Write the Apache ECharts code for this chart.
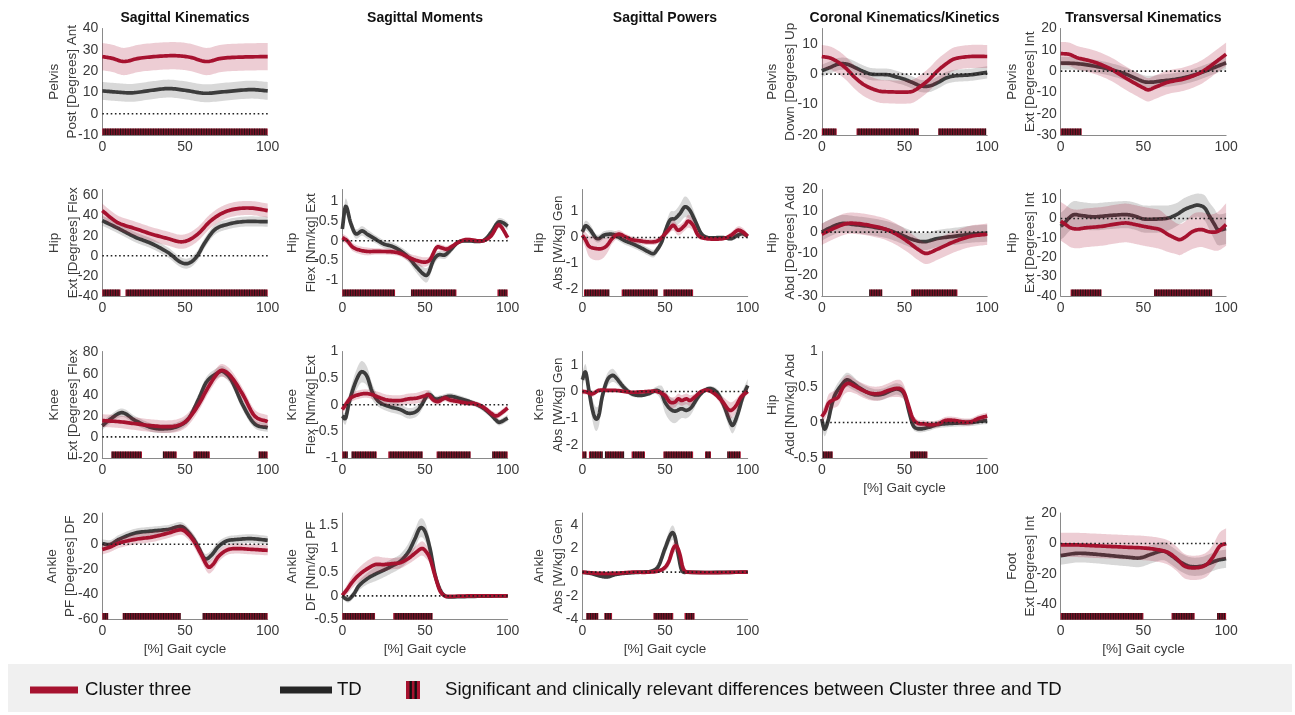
<!DOCTYPE html>
<html>
<head>
<meta charset="utf-8">
<script src="https://cdn.jsdelivr.net/npm/echarts@6/dist/echarts.min.js"></script>
<style>
html, body { margin: 0; padding: 0; background: #fff; }
#chart { width: 1295px; height: 715px; }
</style>
</head>
<body>
<div id="chart"></div>
<script>
// Gait curves: each row is [gait cycle %, mean, standard deviation]
const pelvisSagTD = [[0,10.7,4.2],[8,10.2,4.2],[18,9.8,4.2],[30,11,4.2],[40,11.8,4.2],[50,11,4.2],[62,9.6,4.2],[75,10.4,4.2],[90,11.3,4.2],[100,10.7,4.2]];
const pelvisSagC3 = [[0,26.8,6.4],[6,26,6.4],[13,24.5,6.4],[22,26,6.4],[35,27,6.4],[45,27.2,6.4],[53,26.5,6.4],[63,24.5,6.4],[72,26,6.4],[85,26.6,6.4],[100,26.8,6.4]];

const hipSagTD = [[0,35,5],[10,27,5],[20,18.5,5],[30,12,5],[40,3,5],[47,-6,5],[52,-7.5,5],[57,-1,5],[62,13,5],[68,26,5],[75,31,5],[85,34,5],[100,34,5]];
const hipSagC3 = [[0,45,7],[5,38,7],[10,32.5,7],[20,27,7],[30,21.5,7],[40,17,7],[47,14,7],[52,15.5,7],[58,22,7],[65,34,7],[72,42,7],[80,46.5,7],[90,47.5,7],[100,45,7]];

const kneeSagTD = [[0,10.6,4],[5,17,4],[12,23,4],[20,15.5,4],[30,8.7,4],[37,7.7,4],[45,9.7,4],[52,17,4],[58,35,5],[63,52,5],[70,61,5],[73,62,5],[78,54,5],[85,30,5],[92,12.5,4],[100,8.7,4]];
const kneeSagC3 = [[0,15.5,6],[10,14.5,6],[20,12.5,6],[30,10.6,6],[40,9.7,6],[47,11.6,6],[52,17,6],[58,30,6],[64,47,6],[70,61,6],[73,63,6],[78,57,6],[85,40,6],[92,20,6],[100,14.5,6]];

const ankleSagTD = [[0,0.5,3.5],[5,0,3.5],[10,4,3.5],[20,9,3.5],[30,10.6,3.5],[40,12,3.5],[47,14.3,3.5],[50,12.5,3.5],[55,4.5,4],[58,-2,4],[62,-11.4,4],[66,-8.7,4],[70,-2,4],[75,2.6,3.5],[80,3.7,3.5],[90,4.5,3.5],[100,3.2,3.5]];
const ankleSagC3 = [[0,-4.2,4],[5,-2,4],[10,1,4],[20,4,4],[30,5.8,4],[40,9,4],[47,11.6,4],[50,10.3,4],[55,3.2,4.5],[60,-8.7,5],[64,-18,5],[67,-15.9,5],[70,-10,4.5],[75,-4.8,4],[80,-3.4,4],[90,-4,4],[100,-4.8,4]];

const hipMomTD = [[0,0.3,0.12],[2,0.87,0.2],[5,0.46,0.15],[8,0.18,0.12],[12,0.25,0.12],[15,0.17,0.12],[20,0.04,0.1],[25,-0.08,0.1],[30,-0.14,0.1],[35,-0.25,0.1],[40,-0.42,0.12],[45,-0.67,0.15],[50,-0.87,0.18],[52,-0.83,0.18],[55,-0.5,0.15],[58,-0.36,0.1],[62,-0.36,0.1],[65,-0.25,0.1],[70,-0.04,0.06],[75,0,0.05],[85,0,0.05],[90,0.21,0.08],[94,0.46,0.1],[97,0.46,0.1],[100,0.37,0.1]];
const hipMomC3 = [[0,0.08,0.1],[3,0,0.1],[6,-0.15,0.1],[10,-0.23,0.1],[15,-0.27,0.1],[20,-0.27,0.08],[30,-0.28,0.08],[35,-0.32,0.08],[40,-0.42,0.1],[45,-0.5,0.12],[50,-0.54,0.12],[53,-0.48,0.1],[57,-0.17,0.08],[60,-0.18,0.08],[63,-0.21,0.08],[67,-0.125,0.06],[70,-0.04,0.05],[75,0.03,0.05],[85,0,0.05],[90,0.125,0.06],[94,0.39,0.08],[96,0.36,0.08],[100,0.08,0.08]];

const kneeMomTD = [[0,-0.21,0.08],[2,-0.25,0.12],[4,0.03,0.15],[7,0.34,0.18],[10,0.56,0.2],[12,0.62,0.2],[15,0.53,0.18],[18,0.25,0.15],[22,0.06,0.1],[28,-0.03,0.1],[35,-0.09,0.1],[40,-0.16,0.1],[45,-0.12,0.1],[48,0,0.1],[51,0.16,0.08],[53,0.19,0.08],[56,0.11,0.06],[60,0.125,0.06],[65,0.16,0.06],[70,0.125,0.06],[75,0.08,0.05],[80,0.02,0.05],[85,-0.06,0.06],[90,-0.19,0.06],[93,-0.29,0.06],[95,-0.33,0.06],[100,-0.25,0.06]];
const kneeMomC3 = [[0,-0.09,0.08],[2,0,0.08],[5,0.125,0.08],[10,0.19,0.08],[14,0.21,0.08],[18,0.19,0.08],[22,0.14,0.1],[27,0.09,0.1],[35,0.08,0.1],[40,0.11,0.1],[45,0.125,0.1],[50,0.17,0.1],[52,0.19,0.08],[55,0.09,0.06],[58,0.06,0.06],[62,0.125,0.06],[65,0.09,0.06],[70,0.06,0.05],[75,0.03,0.05],[80,0.02,0.05],[85,-0.04,0.05],[90,-0.16,0.06],[93,-0.21,0.06],[96,-0.16,0.06],[100,-0.06,0.06]];

const ankleMomTD = [[0,0,0.05],[2,-0.06,0.06],[4,-0.07,0.07],[7,0.04,0.08],[10,0.21,0.1],[15,0.36,0.12],[20,0.46,0.15],[25,0.54,0.15],[30,0.63,0.15],[35,0.73,0.15],[40,0.93,0.18],[44,1.21,0.2],[47,1.43,0.2],[50,1.36,0.2],[53,1,0.18],[56,0.46,0.12],[59,0.14,0.06],[62,0,0.03],[65,-0.02,0.02],[80,-0.01,0.02],[100,0,0.02]];
const ankleMomC3 = [[0,0.01,0.05],[3,0.14,0.1],[6,0.29,0.13],[10,0.44,0.15],[15,0.57,0.17],[20,0.66,0.17],[25,0.66,0.15],[30,0.68,0.12],[35,0.7,0.12],[40,0.79,0.12],[45,0.93,0.14],[48,1,0.15],[50,0.96,0.15],[53,0.79,0.12],[56,0.43,0.1],[59,0.11,0.06],[62,0,0.03],[65,-0.01,0.02],[80,0,0.02],[100,0,0.02]];

const hipPowTD = [[0,0.22,0.2],[2,0.45,0.2],[5,0.28,0.2],[8,0,0.15],[10,-0.04,0.15],[13,0.09,0.15],[17,0.13,0.15],[20,0.09,0.15],[25,-0.1,0.15],[30,-0.23,0.15],[35,-0.38,0.15],[40,-0.55,0.15],[43,-0.62,0.15],[45,-0.49,0.15],[48,-0.17,0.15],[50,0.22,0.2],[53,0.67,0.3],[56,0.73,0.3],[59,0.92,0.35],[62,1.18,0.4],[65,1.05,0.35],[68,0.67,0.25],[72,0.15,0.1],[76,0,0.05],[85,0,0.05],[90,-0.04,0.08],[94,0.09,0.1],[97,0.15,0.1],[100,0.05,0.1]];
const hipPowC3 = [[0,0.09,0.2],[2,-0.1,0.3],[4,-0.33,0.4],[8,-0.42,0.45],[12,-0.42,0.4],[15,-0.3,0.3],[18,-0.04,0.2],[22,0.13,0.15],[26,0.03,0.12],[30,-0.08,0.12],[35,-0.13,0.12],[40,-0.17,0.12],[45,-0.14,0.12],[48,0,0.12],[52,0.28,0.15],[55,0.47,0.2],[58,0.28,0.2],[62,0.47,0.2],[64,0.63,0.25],[67,0.47,0.2],[70,0.09,0.12],[75,-0.04,0.06],[85,-0.04,0.06],[90,0.09,0.12],[94,0.28,0.15],[97,0.22,0.15],[100,0.05,0.1]];

const kneePowTD = [[0,0.44,0.25],[2,0.72,0.3],[4,0.04,0.3],[6,-0.65,0.4],[8,-1.02,0.45],[10,-0.9,0.4],[12,-0.21,0.3],[15,0.41,0.25],[18,0.6,0.25],[20,0.54,0.22],[25,0.16,0.15],[30,-0.09,0.1],[35,-0.15,0.08],[40,-0.09,0.08],[45,0.04,0.15],[48,-0.09,0.3],[50,-0.4,0.4],[53,-0.65,0.45],[56,-0.74,0.45],[60,-0.65,0.35],[63,-0.71,0.3],[66,-0.59,0.25],[70,-0.21,0.15],[74,0.04,0.1],[78,0.1,0.1],[82,-0.09,0.15],[86,-0.59,0.25],[89,-1.09,0.3],[91,-1.27,0.3],[94,-0.84,0.3],[97,-0.21,0.25],[100,0.22,0.25]];
const kneePowC3 = [[0,0,0.1],[3,-0.03,0.1],[6,-0.09,0.12],[10,0.04,0.08],[15,0.04,0.06],[20,0.04,0.06],[30,-0.03,0.05],[40,0,0.05],[45,0,0.06],[50,-0.15,0.15],[53,-0.4,0.2],[56,-0.4,0.2],[58,-0.28,0.2],[60,-0.34,0.2],[63,-0.28,0.2],[65,-0.34,0.2],[68,-0.21,0.12],[72,0,0.08],[76,0.04,0.08],[80,-0.09,0.1],[85,-0.4,0.2],[88,-0.65,0.3],[90,-0.71,0.3],[93,-0.53,0.25],[96,-0.21,0.15],[100,0,0.1]];

const anklePowTD = [[0,0,0.1],[5,-0.1,0.1],[10,-0.3,0.15],[15,-0.4,0.15],[20,-0.2,0.15],[25,-0.1,0.12],[35,0,0.1],[42,0.1,0.15],[46,0.5,0.3],[50,2,0.5],[54,3.3,0.6],[56,3,0.6],[58,1.5,0.5],[60,0.2,0.2],[63,0,0.1],[100,0,0.05]];
const anklePowC3 = [[0,0,0.1],[10,-0.1,0.15],[20,-0.1,0.15],[30,0,0.1],[40,0,0.1],[48,0.2,0.2],[52,0.8,0.4],[55,2,0.5],[57,2.2,0.5],[59,1.5,0.4],[61,0.3,0.2],[64,0,0.1],[100,0,0.05]];

const pelvisCorTD = [[0,1.1,2],[5,2.2,2],[10,3.3,2],[15,3.3,2],[20,2.2,2],[25,0.9,2],[30,0,2],[40,-0.2,2],[45,-0.9,2],[50,-1.7,2],[55,-2.8,2],[60,-3.9,2],[65,-3.9,2],[70,-2.8,2],[75,-1.3,2],[80,-0.6,2],[90,-0.2,2],[100,0.6,2]];
const pelvisCorC3 = [[0,5.8,3.8],[5,5.3,3.8],[10,3.9,3.8],[15,1.7,3.8],[20,-1.1,3.8],[25,-3.3,3.8],[30,-4.7,3.8],[35,-5.6,3.8],[40,-5.8,3.8],[50,-5.9,3.8],[55,-5.6,3.8],[60,-3.9,3.8],[65,-1.7,3.8],[70,1.1,3.8],[75,3.3,3.8],[80,5,3.8],[90,5.8,3.8],[100,5.8,3.8]];

const hipCorTD = [[0,0,4],[5,2,4],[12,4,4],[20,3.5,4],[30,2.5,4],[40,1,4],[47,-1,4],[55,-3.5,4],[62,-4.5,4],[70,-3,4],[80,-2,4],[90,-1,4],[100,-0.5,4]];
const hipCorC3 = [[0,-1,5],[8,2,5],[15,4,5],[22,4,5],[30,3,5],[38,1.5,5],[45,-1,5],[52,-4.5,5],[58,-8,5],[63,-10,5],[70,-8,5],[80,-4.5,5],[90,-2,5],[100,-1,5]];

const hipCorMomTD = [[0,0.05,0.08],[1,-0.06,0.1],[2,-0.09,0.1],[4,0.04,0.1],[6,0.25,0.1],[8,0.39,0.1],[12,0.53,0.1],[15,0.6,0.1],[18,0.57,0.1],[22,0.5,0.08],[27,0.43,0.08],[32,0.39,0.08],[37,0.4,0.08],[42,0.45,0.08],[46,0.47,0.08],[50,0.39,0.08],[53,0.13,0.08],[55,-0.03,0.06],[57,-0.08,0.05],[60,-0.09,0.05],[65,-0.065,0.05],[70,-0.03,0.05],[80,-0.01,0.05],[90,0,0.05],[100,0.03,0.05]];
const hipCorMomC3 = [[0,0.08,0.08],[2,0.155,0.1],[4,0.27,0.12],[7,0.32,0.12],[10,0.36,0.12],[13,0.5,0.12],[16,0.55,0.12],[20,0.51,0.1],[25,0.45,0.1],[30,0.41,0.1],[35,0.41,0.1],[40,0.45,0.1],[45,0.48,0.12],[48,0.47,0.12],[50,0.41,0.1],[52,0.27,0.08],[55,0.06,0.06],[58,-0.01,0.05],[62,-0.02,0.05],[65,-0.03,0.05],[70,-0.02,0.05],[75,0.03,0.05],[80,0.03,0.05],[85,0.01,0.05],[90,0.01,0.05],[95,0.06,0.05],[100,0.09,0.05]];

const pelvisTraTD = [[0,3.8,3],[10,3.5,3],[20,2.4,3],[30,0.8,3],[40,-1.6,3],[50,-4.9,3],[55,-5.2,3],[60,-4.7,3],[70,-3.8,3],[80,-2,3],[90,0.8,3],[100,3.9,3]];
const pelvisTraC3 = [[0,8.2,5.5],[5,7.9,5.5],[10,6.3,5.5],[20,4.3,5.5],[30,1.1,5.5],[40,-3.6,5.5],[50,-7.9,5.5],[53,-8.8,5.5],[57,-7.6,5.5],[65,-5.2,5.5],[75,-3.6,5.5],[85,-0.5,5.5],[95,5,5.5],[100,7.9,5.5]];

const hipTraTD = [[0,-4,7],[2,-2.6,7],[5,0.3,7],[8,2,7],[12,1.6,7],[20,0.9,7],[30,1.6,7],[40,2,7],[45,1.2,7],[50,-0.2,7],[60,-0.2,7],[65,0.3,6.5],[70,2,6],[75,4.7,6],[80,6.4,6],[83,6.9,6],[87,5.5,6.5],[90,1.2,7],[93,-3.1,8],[95,-5.7,8],[100,-5.2,8]];
const hipTraC3 = [[0,-1.4,10],[3,-3.1,10],[6,-4.8,10],[10,-5.4,10],[15,-4.8,10],[25,-4,10],[35,-2.6,10],[40,-2.3,10],[45,-3.1,10],[50,-4,10],[55,-4.8,10],[60,-5.7,10],[65,-8.3,9],[70,-10.4,8],[72,-10.9,8],[75,-9.7,8],[80,-6.6,9],[85,-5.7,9],[90,-6.9,9],[95,-6.6,10],[100,-3.1,11]];

const footTraTD = [[0,-8,6],[10,-6.5,6],[20,-7,6],[30,-8,6],[40,-9,6],[48,-9.5,6],[55,-7,6],[62,-5,6],[67,-8,6],[72,-12,6],[78,-15,6],[85,-15,6],[90,-13,6],[95,-11,6],[100,-10,6]];
const footTraC3 = [[0,-1,8],[10,-1,8],[20,-1.5,8],[30,-2,8],[40,-2.5,8],[50,-3,8],[58,-4,8],[65,-6,8],[70,-10,8],[75,-15,8],[82,-16,8],[88,-14,8],[92,-9,8],[96,-2,9],[100,0,10]];

// Gait cycle intervals with significant and clinically relevant differences
const pelvisSagSig = [[0,100]];
const hipSagSig = [[0,11],[14,100]];
const kneeSagSig = [[5.5,24],[36.6,45],[55,65],[94.5,100]];
const ankleSagSig = [[0,3.6],[12.3,47.4],[60.7,100]];
const hipMomSig = [[0,31.9],[41.5,69],[93.8,100]];
const kneeMomSig = [[0,3.2],[5.6,20.8],[27.8,48.6],[57,77.6],[90.7,100]];
const ankleMomSig = [[0,19.8],[30.8,54.6]];
const hipPowSig = [[1,16.3],[23.8,45.6],[49,67]];
const kneePowSig = [[0,2.6],[4,12.3],[13.7,25.2],[29.8,37.9],[49,67],[74.2,77.8],[87.7,95.8]];
const anklePowSig = [[2.4,9.7],[13.3,18],[43,55],[61.8,67.9]];
const pelvisCorSig = [[0,9],[21,58.7],[70.4,99.4]];
const hipCorSig = [[28.7,36.6],[54,82]];
const hipCorMomSig = [[0.6,6.6],[53.4,63.9]];
const pelvisTraSig = [[0,12.7]];
const hipTraSig = [[6,24.7],[56.4,91.6]];
const footTraSig = [[0,50],[67,81],[94.5,100]];

// Tick labels
const gaitTicks = [0, 50, 100];
const pelvisSagTicks = [-10, 0, 10, 20, 30, 40];
const hipSagTicks = [-40, -20, 0, 20, 40, 60];
const kneeSagTicks = [-20, 0, 20, 40, 60, 80];
const ankleSagTicks = [-60, -40, -20, 0, 20];
const hipMomTicks = [-1, -0.5, 0, 0.5, 1];
const kneeMomTicks = [-1, -0.5, 0, 0.5, 1];
const ankleMomTicks = [-0.5, 0, 0.5, 1, 1.5];
const hipPowTicks = [-2, -1, 0, 1];
const kneePowTicks = [-2, -1, 0, 1];
const anklePowTicks = [-4, -2, 0, 2, 4];
const pelvisCorTicks = [-20, -10, 0, 10];
const hipCorTicks = [-30, -20, -10, 0, 10, 20];
const hipCorMomTicks = [-0.5, 0, 0.5, 1];
const pelvisTraTicks = [-30, -20, -10, 0, 10, 20];
const hipTraTicks = [-40, -30, -20, -10, 0, 10];
const footTraTicks = [-40, -20, 0, 20];

const columnTitles = ['Sagittal Kinematics', 'Sagittal Moments', 'Sagittal Powers', 'Coronal Kinematics/Kinetics', 'Transversal Kinematics'];
const legendLabels = ['Cluster three', 'TD', 'Significant and clinically relevant differences between Cluster three and TD'];
const gaitAxisName = '[%] Gait cycle';

// Panel layout
const panels = [
  { col: 0, row: 0, name: 'Pelvis\nPost [Degrees] Ant', range: [-10, 40], ticks: pelvisSagTicks, td: pelvisSagTD, c3: pelvisSagC3, sig: pelvisSagSig, gap: 20.5 },
  { col: 0, row: 1, name: 'Hip\nExt [Degrees] Flex', range: [-40, 66], ticks: hipSagTicks, td: hipSagTD, c3: hipSagC3, sig: hipSagSig, gap: 20 },
  { col: 0, row: 2, name: 'Knee\nExt [Degrees] Flex', range: [-20, 81], ticks: kneeSagTicks, td: kneeSagTD, c3: kneeSagC3, sig: kneeSagSig, gap: 20 },
  { col: 0, row: 3, name: 'Ankle\nPF [Degrees] DF', range: [-60, 25], ticks: ankleSagTicks, td: ankleSagTD, c3: ankleSagC3, sig: ankleSagSig, gap: 22.5, xName: true },
  { col: 1, row: 1, name: 'Hip\nFlex [Nm/kg] Ext', range: [-1.4, 1.3], ticks: hipMomTicks, td: hipMomTD, c3: hipMomC3, sig: hipMomSig, gap: 22 },
  { col: 1, row: 2, name: 'Knee\nFlex [Nm/kg] Ext', range: [-1, 1], ticks: kneeMomTicks, td: kneeMomTD, c3: kneeMomC3, sig: kneeMomSig, gap: 22 },
  { col: 1, row: 3, name: 'Ankle\nDF [Nm/kg] PF', range: [-0.5, 1.75], ticks: ankleMomTicks, td: ankleMomTD, c3: ankleMomC3, sig: ankleMomSig, gap: 22, xName: true },
  { col: 2, row: 1, name: 'Hip\nAbs [W/kg] Gen', range: [-2.25, 1.85], ticks: hipPowTicks, td: hipPowTD, c3: hipPowC3, sig: hipPowSig, gap: 15 },
  { col: 2, row: 2, name: 'Knee\nAbs [W/kg] Gen', range: [-2.5, 1.5], ticks: kneePowTicks, td: kneePowTD, c3: kneePowC3, sig: kneePowSig, gap: 15 },
  { col: 2, row: 3, name: 'Ankle\nAbs [W/kg] Gen', range: [-4, 5], ticks: anklePowTicks, td: anklePowTD, c3: anklePowC3, sig: anklePowSig, gap: 15, xName: true },
  { col: 3, row: 0, name: 'Pelvis\nDown [Degrees] Up', range: [-20, 15], ticks: pelvisCorTicks, td: pelvisCorTD, c3: pelvisCorC3, sig: pelvisCorSig, gap: 22 },
  { col: 3, row: 1, name: 'Hip\nAbd [Degrees] Add', range: [-30, 20], ticks: hipCorTicks, td: hipCorTD, c3: hipCorC3, sig: hipCorSig, gap: 22 },
  { col: 3, row: 2, name: 'Hip\nAdd [Nm/kg] Abd', range: [-0.5, 1], ticks: hipCorMomTicks, td: hipCorMomTD, c3: hipCorMomC3, sig: hipCorMomSig, gap: 22, xName: true },
  { col: 4, row: 0, name: 'Pelvis\nExt [Degrees] Int', range: [-30, 20], ticks: pelvisTraTicks, td: pelvisTraTD, c3: pelvisTraC3, sig: pelvisTraSig, gap: 21 },
  { col: 4, row: 1, name: 'Hip\nExt [Degrees] Int', range: [-40, 15], ticks: hipTraTicks, td: hipTraTD, c3: hipTraC3, sig: hipTraSig, gap: 21 },
  { col: 4, row: 3, name: 'Foot\nExt [Degrees] Int', range: [-50, 20], ticks: footTraTicks, td: footTraTD, c3: footTraC3, sig: footTraSig, gap: 21, xName: true }
];

const colLeft = [102.3, 342.3, 582.3, 821.8, 1060.7];
const rowTop = [28.5, 189.5, 351.5, 513];
const plotW = 165.4, plotH = 106.5;

const FONT = '"Liberation Sans", Arial, Helvetica, sans-serif';
const RED = '#a6122f';
const RED_BAND = 'rgba(170, 20, 50, 0.21)';
const GREY = '#3c3c3c';
const GREY_BAND = 'rgba(60, 60, 60, 0.2)';
const AXIS_COLOR = '#8a8a8a';
const LABEL_COLOR = '#3a3a3a';

// Monotone-in-x cubic Hermite curve through pixel points
function spline(points, steps) {
  const n = points.length, out = [];
  const m = points.map((p, i) => {
    const a = points[Math.max(0, i - 1)], b = points[Math.min(n - 1, i + 1)];
    const dx = b[0] - a[0];
    return dx ? (b[1] - a[1]) / dx : 0;
  });
  for (let i = 0; i < n - 1; i++) {
    const p0 = points[i], p1 = points[i + 1], h = p1[0] - p0[0];
    for (let s = 0; s < steps; s++) {
      const t = s / steps, t2 = t * t, t3 = t2 * t;
      const y = (2 * t3 - 3 * t2 + 1) * p0[1] + (t3 - 2 * t2 + t) * h * m[i]
              + (-2 * t3 + 3 * t2) * p1[1] + (t3 - t2) * h * m[i + 1];
      out.push([p0[0] + h * t, y]);
    }
  }
  out.push(points[n - 1].slice());
  return out;
}

// Shaded mean ± SD band
function bandSeries(idx, rows, color, z) {
  return {
    type: 'custom', xAxisIndex: idx, yAxisIndex: idx, z: z, silent: true,
    data: [[rows[0][0], rows[0][1]]],
    encode: { x: 0, y: 1 },
    renderItem: function (params, api) {
      const upper = rows.map(r => api.coord([r[0], r[1] + r[2]]));
      const lower = rows.map(r => api.coord([r[0], r[1] - r[2]]));
      const pts = spline(upper, 10).concat(spline(lower, 10).reverse());
      return { type: 'polygon', shape: { points: pts }, style: { fill: color } };
    }
  };
}

// Mean curve
function meanSeries(idx, rows, color, z) {
  return {
    type: 'custom', xAxisIndex: idx, yAxisIndex: idx, z: z, silent: true,
    data: rows.map(r => [r[0], r[1]]),
    encode: { x: 0, y: 1 },
    renderItem: function (params, api) {
      if (params.dataIndex !== 0) return null;
      const pts = spline(rows.map(r => api.coord([r[0], r[1]])), 10);
      return {
        type: 'polyline', shape: { points: pts },
        style: { stroke: color, lineWidth: 3.7, fill: null, lineJoin: 'round', lineCap: 'butt' }
      };
    }
  };
}

function zeroSeries(idx) {
  return {
    type: 'line', xAxisIndex: idx, yAxisIndex: idx, z: 5, silent: true,
    data: [[0, 0], [100, 0]], symbol: 'none',
    lineStyle: { color: '#222', width: 1.6, type: [1.6, 2.6] }
  };
}

// Striped markers along the bottom of a panel
function sigSeries(idx, intervals, yMin) {
  return {
    type: 'custom', xAxisIndex: idx, yAxisIndex: idx, z: 6, silent: true,
    data: intervals.map(s => [s[0], s[1], yMin]),
    encode: { x: [0, 1], y: 2 },
    renderItem: function (params, api) {
      const s = api.value(0), e = api.value(1), base = api.value(2);
      const a = api.coord([s, base]), b = api.coord([e, base]);
      const h = 6.5;
      const children = [{
        type: 'rect',
        shape: { x: a[0], y: a[1] - h, width: b[0] - a[0], height: h },
        style: { fill: RED }
      }];
      for (let k = Math.ceil(s + 0.3); k < e; k += 1) {
        const c = api.coord([k, base]);
        children.push({
          type: 'line',
          shape: { x1: c[0], y1: a[1] - h, x2: c[0], y2: a[1] },
          style: { stroke: '#141414', lineWidth: 0.9 }
        });
      }
      return { type: 'group', children: children };
    }
  };
}

const grid = [], xAxis = [], yAxis = [], series = [];
panels.forEach((p, i) => {
  grid.push({
    left: colLeft[p.col], top: rowTop[p.row], width: plotW, height: plotH,
    containLabel: false, outerBoundsMode: 'none'
  });
  xAxis.push({
    gridIndex: i, type: 'value', min: 0, max: 100,
    name: p.xName ? gaitAxisName : '', nameLocation: 'middle', nameGap: 23,
    nameTextStyle: { fontFamily: FONT, fontSize: 13.5, color: LABEL_COLOR },
    axisLine: { show: true, onZero: false, lineStyle: { color: AXIS_COLOR, width: 1 } },
    axisTick: { show: false },
    splitLine: { show: false },
    axisLabel: { customValues: gaitTicks, margin: 5, fontFamily: FONT, fontSize: 14, color: LABEL_COLOR, showMinLabel: true, showMaxLabel: true }
  });
  yAxis.push({
    gridIndex: i, type: 'value', min: p.range[0], max: p.range[1],
    name: p.name, nameLocation: 'middle', nameRotate: 90, nameGap: p.gap, nameMoveOverlap: false,
    nameTextStyle: { fontFamily: FONT, fontSize: 13.5, lineHeight: 18.5, color: LABEL_COLOR },
    axisLine: { show: true, onZero: false, lineStyle: { color: AXIS_COLOR, width: 1 } },
    axisTick: { show: false },
    splitLine: { show: false },
    axisLabel: { customValues: p.ticks, margin: 4, fontFamily: FONT, fontSize: 14, color: LABEL_COLOR, showMinLabel: true, showMaxLabel: true }
  });
  series.push(bandSeries(i, p.td, GREY_BAND, 1));
  series.push(meanSeries(i, p.td, GREY, 2));
  series.push(bandSeries(i, p.c3, RED_BAND, 3));
  series.push(meanSeries(i, p.c3, RED, 4));
  series.push(zeroSeries(i));
  series.push(sigSeries(i, p.sig, p.range[0]));
});

// Column titles and legend panel
const graphic = columnTitles.map((t, c) => ({
  type: 'text', x: colLeft[c] + plotW / 2, y: 18,
  style: { text: t, fontFamily: FONT, fontWeight: 'bold', fontSize: 14, fill: '#111', align: 'center', verticalAlign: 'middle' }
}));
const legendY = 690;
const LEGEND_FONT = 18.6;
graphic.push(
  { type: 'rect', shape: { x: 8, y: 664, width: 1284, height: 48 }, style: { fill: '#f0f0f0' } },
  { type: 'rect', shape: { x: 30, y: legendY - 3.5, width: 48, height: 7 }, style: { fill: RED } },
  { type: 'text', x: 85, y: legendY, style: { text: legendLabels[0], fontFamily: FONT, fontSize: LEGEND_FONT, fill: '#111', verticalAlign: 'middle' } },
  { type: 'rect', shape: { x: 280, y: legendY - 3.5, width: 52, height: 7 }, style: { fill: '#262626' } },
  { type: 'text', x: 337, y: legendY, style: { text: legendLabels[1], fontFamily: FONT, fontSize: LEGEND_FONT, fill: '#111', verticalAlign: 'middle' } },
  { type: 'rect', shape: { x: 406, y: legendY - 9, width: 14, height: 18 }, style: { fill: RED } },
  { type: 'rect', shape: { x: 409.5, y: legendY - 9, width: 2.4, height: 18 }, style: { fill: '#111' } },
  { type: 'rect', shape: { x: 414.5, y: legendY - 9, width: 2.4, height: 18 }, style: { fill: '#111' } },
  { type: 'text', x: 445, y: legendY, style: { text: legendLabels[2], fontFamily: FONT, fontSize: LEGEND_FONT, fill: '#111', verticalAlign: 'middle' } }
);

const chart = echarts.init(document.getElementById('chart'), null, { renderer: 'canvas' });
chart.setOption({
  backgroundColor: '#ffffff',
  animation: false,
  textStyle: { fontFamily: FONT },
  grid: grid,
  xAxis: xAxis,
  yAxis: yAxis,
  series: series,
  graphic: graphic
});
</script>
</body>
</html>
